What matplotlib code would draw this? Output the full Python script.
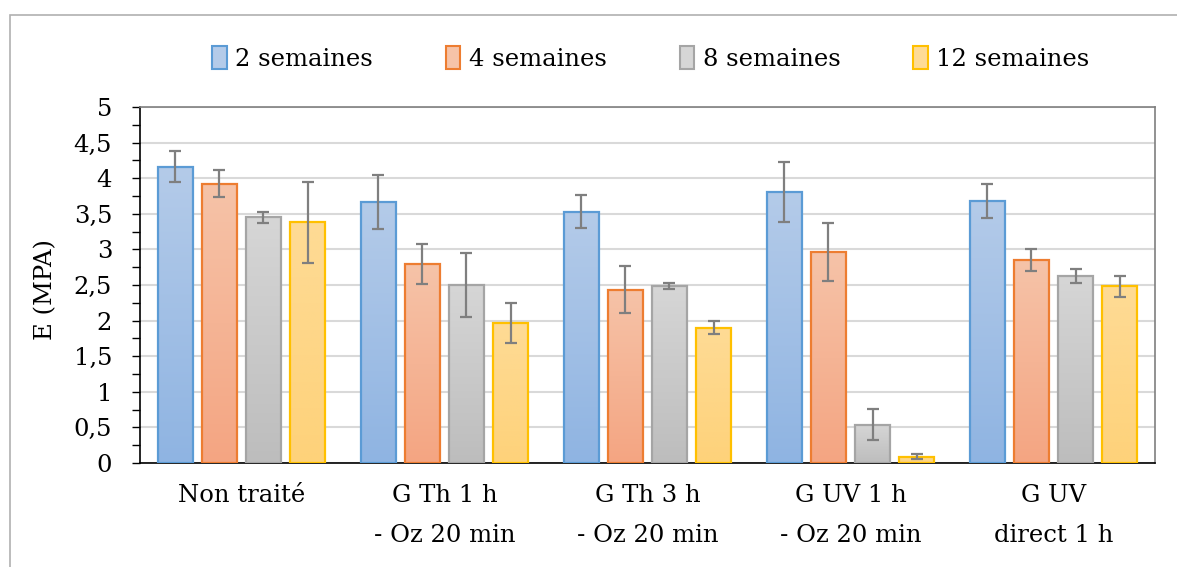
import numpy as np
import matplotlib
matplotlib.use("Agg")
import matplotlib.pyplot as plt
from matplotlib.colors import LinearSegmentedColormap
from matplotlib.patches import Patch, Rectangle
from matplotlib.ticker import MultipleLocator, FuncFormatter

plt.rcParams['font.family'] = ['DejaVu Serif']

# données
categories = ["Non traité", "G Th 1 h\n- Oz 20 min", "G Th 3 h\n- Oz 20 min",
              "G UV 1 h\n- Oz 20 min", "G UV\ndirect 1 h"]
series_names = ["2 semaines", "4 semaines", "8 semaines", "12 semaines"]

sem2 = [4.16, 3.67, 3.53, 3.81, 3.68]
sem4 = [3.92, 2.79, 2.43, 2.96, 2.85]
sem8 = [3.45, 2.50, 2.49, 0.54, 2.63]
sem12 = [3.38, 1.97, 1.90, 0.09, 2.48]

err2 = [0.22, 0.38, 0.23, 0.42, 0.24]
err4 = [0.19, 0.28, 0.33, 0.41, 0.15]
err8 = [0.08, 0.45, 0.04, 0.22, 0.10]
err12 = [0.57, 0.28, 0.09, 0.03, 0.15]

values = [sem2, sem4, sem8, sem12]
errors = [err2, err4, err8, err12]

# couleurs (haut clair, bas foncé, bordure)
tops = ["#b4cbe9", "#f6c3a8", "#d6d6d6", "#fedb95"]
bottoms = ["#8fb4e2", "#f4a582", "#bdbdbd", "#fed27a"]
edges = ["#5b9bd5", "#ed7d31", "#a5a5a5", "#ffc000"]

FS = 17.5

fig = plt.figure(figsize=(11.77, 5.67), dpi=100)
ax = fig.add_axes([0.1189, 0.1834, 0.8624, 0.6279])

# cadre extérieur du graphique
fig.add_artist(Rectangle((10 / 1177, -0.1), 1.2, 1 - 15 / 567 + 0.1,
                         transform=fig.transFigure, fill=False,
                         edgecolor="#b0b0b0", linewidth=1.2))

step = 0.217
width = 0.176
x = np.arange(len(categories))
grad = np.linspace(0, 1, 100).reshape(-1, 1)

for j, (vals, errs) in enumerate(zip(values, errors)):
    cmap = LinearSegmentedColormap.from_list("g%d" % j, [bottoms[j], tops[j]])
    xs = x + (j - 1.5) * step
    for xi, v in zip(xs, vals):
        ax.imshow(grad, extent=[xi - width / 2, xi + width / 2, 0, v],
                  origin="lower", aspect="auto", cmap=cmap, zorder=2)
    ax.bar(xs, vals, width=width, facecolor="none", edgecolor=edges[j],
           linewidth=1.6, zorder=3)
    ax.errorbar(xs, vals, yerr=errs, fmt="none", ecolor="#7f7f7f",
                elinewidth=1.6, capsize=4.2, capthick=1.6, zorder=4)

ax.set_xlim(-0.5, 4.5)
ax.set_ylim(0, 5)
ax.yaxis.set_major_locator(MultipleLocator(0.5))
ax.yaxis.set_minor_locator(MultipleLocator(0.25))
ax.yaxis.set_major_formatter(FuncFormatter(lambda v, p: ("%g" % v).replace(".", ",")))
ax.grid(axis="y", which="major", color="#d9d9d9", linewidth=1.5, zorder=0)
ax.set_axisbelow(True)
ax.tick_params(axis="y", which="both", direction="out", length=6, width=1,
               pad=14, labelsize=FS)
ax.tick_params(axis="x", length=0, pad=15, labelsize=FS)
ax.set_xticks(x)
ax.set_xticklabels(categories, linespacing=1.95)

for s in ["left", "bottom"]:
    ax.spines[s].set_color("black")
    ax.spines[s].set_linewidth(1.2)
for s in ["top", "right"]:
    ax.spines[s].set_color("#7f7f7f")
    ax.spines[s].set_linewidth(1.2)

fig.text(46 / 1177, 0.4885, "E (MPA)", rotation=90, ha="center", va="center",
         fontsize=FS)

handles = [Patch(facecolor=tops[k], edgecolor=edges[k], linewidth=1.5)
           for k in range(4)]
fig.legend(handles, series_names, loc="center", bbox_to_anchor=(0.553, 0.897),
           ncol=4, frameon=False, fontsize=FS, handlelength=0.6,
           handleheight=1.1, handletextpad=0.35, columnspacing=3.0)

fig.savefig("out.png", dpi=100)
